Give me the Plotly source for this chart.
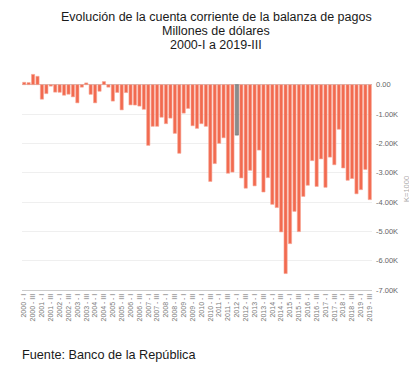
import plotly.graph_objects as go

years = list(range(2000, 2020))
quarters = ["I", "II", "III", "IV"]
categories = [f"{y} - {q}" for y in years for q in quarters][:79]

values = [80, 70, 350, 285, -495, -305, -50, -255, -260, -360,
          -325, -415, -620, -85, 60, -330, -620, -225, 105, -85,
          -560, -265, -860, -270, -690, -695, -730, -840, -2070, -1420,
          -1420, -1110, -1330, -1140, -1660, -2340, -970, -810, -1400, -1490,
          -1330, -1420, -3300, -2690, -2000, -1810, -3020, -2980, -1720, -3180,
          -3530, -2920, -3450, -2230, -3660, -3170, -4080, -4190, -5020, -6440,
          -5420, -4320, -5010, -3810, -3430, -2590, -3470, -2530, -3500, -2470,
          -2730, -1520, -2840, -3260, -3200, -3720, -3580, -2890, -3920]

highlight = "2012 - I"
ytick_vals = [0, -1000, -2000, -3000, -4000, -5000, -6000, -7000]
ytick_text = ["0.00", "-1.00K", "-2.00K", "-3.00K", "-4.00K", "-5.00K", "-6.00K", "-7.00K"]
xtick_vals = categories[::2]
title_lines = ["Evolución de la cuenta corriente de la balanza de pagos",
               "Millones de dólares", "2000-I a 2019-III"]

colors = ["#8c8c8c" if c == highlight else "#F26A4F" for c in categories]
lines = ["#6e6e6e" if c == highlight else "#F7A593" for c in categories]

# page body has an 8px margin: figure sized/positioned to compensate
OFF = 8
W, H = 417 - OFF, 369 - OFF
L, R, T, B = 22 - OFF, 45, 70 - OFF, 79
pw, ph = W - L - R, H - T - B


def px(x):
    return (x - OFF - L) / pw


def py(y):
    return (H - B - (y - OFF)) / ph


font = "Liberation Sans, Arial, sans-serif"
annotations = []
for txt, yy in zip(title_lines, [17, 31, 45]):
    annotations.append(dict(text=txt, x=px(216), y=py(yy), xref="paper", yref="paper",
                            xanchor="center", yanchor="middle", showarrow=False,
                            font=dict(size=12.5, color="#1a1a1a", family=font)))
annotations.append(dict(text="Fuente: Banco de la República", x=px(20), y=py(355),
                        xref="paper", yref="paper", xanchor="left", yanchor="middle",
                        showarrow=False, font=dict(size=12.7, color="#1a1a1a", family=font)))
annotations.append(dict(text="K=1000", x=px(406), y=py(189), xref="paper", yref="paper",
                        xanchor="center", yanchor="middle", textangle=-90, showarrow=False,
                        font=dict(size=7.5, color="#aaa", family=font)))

fig = go.Figure(go.Bar(
    x=categories, y=values,
    marker=dict(color=colors, line=dict(color=lines, width=0.6)),
))

fig.update_layout(
    width=W, height=H,
    margin=dict(l=L, r=R, t=T, b=B, autoexpand=False),
    paper_bgcolor="white", plot_bgcolor="white",
    bargap=0.28, showlegend=False,
    font=dict(family=font),
    annotations=annotations,
)

fig.update_xaxes(
    type="category", tickmode="array", tickvals=xtick_vals, ticktext=xtick_vals,
    tickangle=-90, tickfont=dict(size=7, color="#777"), automargin=False,
    showgrid=False, showline=True, linecolor="#ccc", ticks="",
)
fig.update_yaxes(
    side="right", range=[-7000, 500], tickmode="array",
    tickvals=ytick_vals, ticktext=ytick_text, automargin=False,
    tickfont=dict(size=7.5, color="#666"), ticklabelstandoff=3,
    showgrid=True, gridcolor="#efefef", zeroline=True, zerolinecolor="#c8c8c8",
    zerolinewidth=1, ticks="",
)

fig.write_html("out.html")
